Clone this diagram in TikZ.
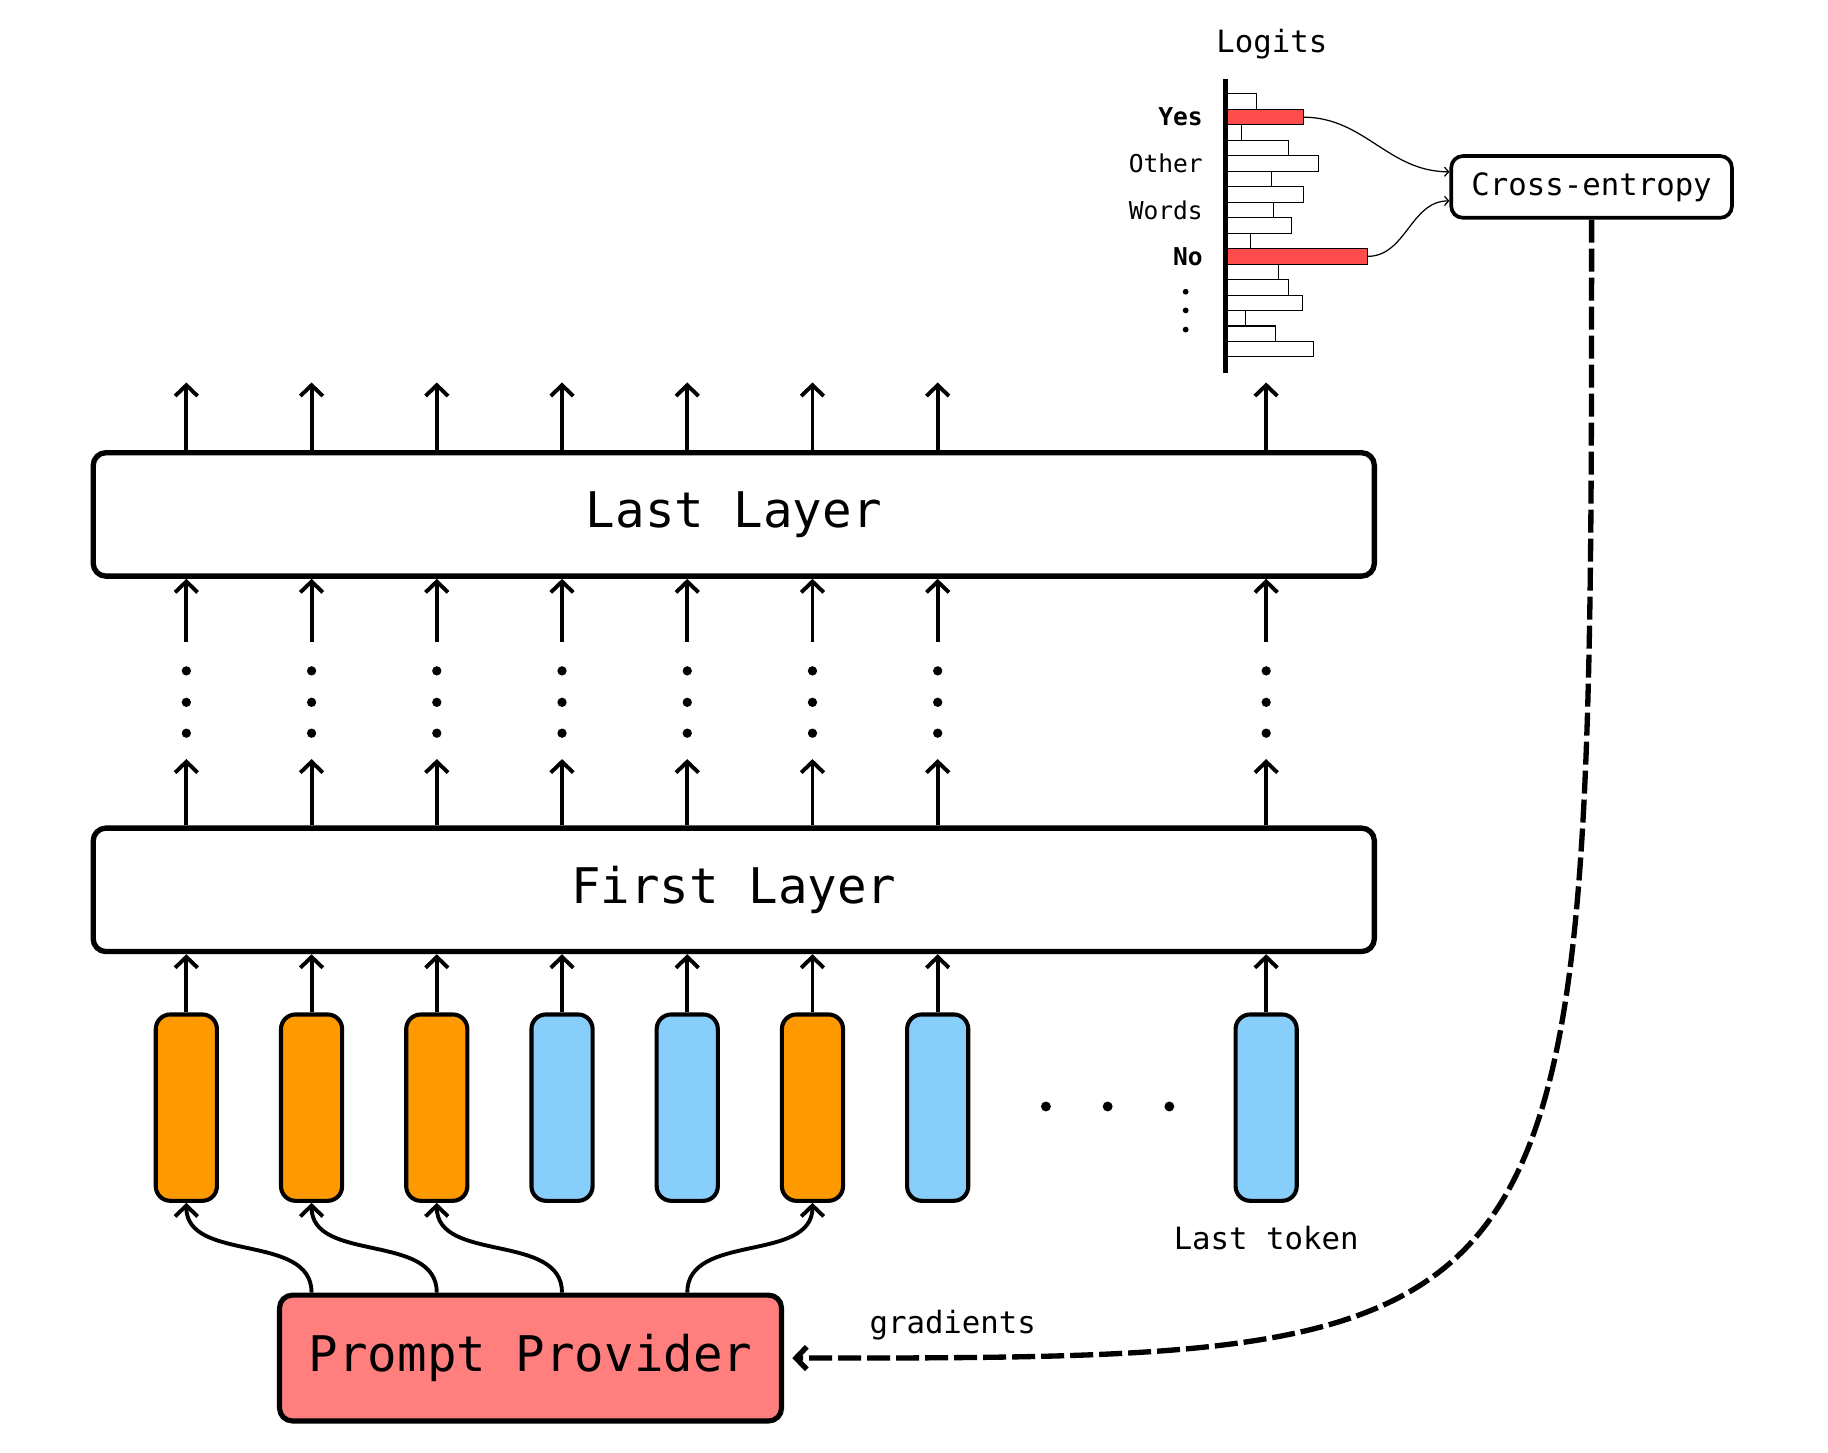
\documentclass[tikz,border=0pt]{standalone}
\usepackage{fontspec}
\setmonofont{DejaVu Sans Mono}
\usetikzlibrary{positioning, calc, arrows.meta}

\definecolor{softorange}{HTML}{FF9900}
\definecolor{tokenblue}{HTML}{87CEFA}
\definecolor{providerred}{HTML}{FF7F7F}
\definecolor{logitred}{HTML}{FF4D4D}

\tikzstyle{layer} = [rectangle, rounded corners=0.22cm, minimum width=22cm, minimum height=2.12cm, text centered, draw=black, line width=2.6pt, font=\ttfamily\fontsize{24}{28}\selectfont]
\tikzstyle{softtok} = [rectangle, rounded corners=0.25cm, minimum width=1.05cm, minimum height=3.2cm, draw=black, line width=2pt, fill=softorange]
\tikzstyle{texttok} = [softtok, fill=tokenblue]
\tikzstyle{provider} = [rectangle, rounded corners=0.22cm, minimum width=8.62cm, minimum height=2.16cm, text centered, draw=black, line width=2.5pt, fill=providerred, font=\ttfamily\fontsize{24}{28}\selectfont]
\tikzstyle{loss} = [rectangle, rounded corners=0.2cm, minimum width=4.82cm, minimum height=1.06cm, text centered, draw=black, line width=1.8pt, font=\ttfamily\fontsize{15}{18}\selectfont]
\tikzstyle{logitbar} = [rectangle, draw=black, line width=0.5pt, minimum height=0.2656cm, inner sep=0pt, outer sep=0pt, anchor=west]
\tikzstyle{barlabel} = [inner sep=0pt, font=\ttfamily\fontsize{12}{14}\selectfont]
\tikzstyle{boldlabel} = [inner sep=0pt, font=\ttfamily\bfseries\fontsize{12}{14}\selectfont]
\tikzstyle{caption} = [inner sep=0pt, font=\ttfamily\fontsize{15}{18}\selectfont]
\tikzstyle{arrow} = [line width=1.9pt, ->, >={Straight Barb[length=5.3pt, width=11pt]}]
\tikzstyle{thinarrow} = [line width=0.6pt, ->, >={Straight Barb[length=2pt, width=4.5pt]}]
\tikzstyle{gradarrow} = [line width=2.6pt, dash pattern=on 0.395cm off 0.103cm, ->, >={Straight Barb[length=5.3pt, width=11pt]}, shorten >=4pt]

\begin{document}
\begin{tikzpicture}[node distance=1cm]
\useasboundingbox (0,0) rectangle (31.39,-24.95);

% Tokens
\node (t1) [softtok] at (3.2,-19.02) {};
\node (t2) [softtok, right=1.03cm of t1] {};
\node (t3) [softtok, right=1.03cm of t2] {};
\node (t4) [texttok, right=1.03cm of t3] {};
\node (t5) [texttok, right=1.03cm of t4] {};
\node (t6) [softtok, right=1.03cm of t5] {};
\node (t7) [texttok, right=1.03cm of t6] {};
\node (t8) [texttok, right=4.52cm of t7] {};

\node (lasttok) [caption, below=0.4cm of t8] {Last token};

\foreach \x in {17.96,19.02,20.08}
  \fill (\x,-19.0) circle (0.085);

% Layers
\node (first) [layer] at (12.6,-15.28) {First Layer};
\node (last) [layer, above=4.235cm of first] {Last Layer};

% Prompt provider and loss
\node (pp) [provider] at (9.11,-23.32) {Prompt Provider};
\node (ce) [loss] at (27.33,-3.21) {Cross-entropy};

% Logits
\coordinate (axtop) at (21.04,-1.36);
\coordinate (axbot) at (21.04,-6.4);
\foreach \len/\col [count=\i] in {0.54/white,1.34/logitred,0.28/white,1.08/white,1.60/white,0.80/white,1.34/white,0.82/white,1.14/white,0.44/white,2.44/logitred,0.92/white,1.08/white,1.32/white,0.34/white,0.86/white,1.52/white}
  \node (bar\i) [logitbar, minimum width=\len cm, fill=\col] at (21.04,{-1.614-0.2656*(\i-0.5)}) {};
\draw [line width=2.5pt] (axtop) -- (axbot);

\node (logits) [caption] at (21.84,-0.76) {Logits};
\node (yes) [boldlabel, left=0.38cm of bar2] {Yes};
\node (other) [barlabel, left=0.38cm of bar5] {Other};
\node (words) [barlabel, left=0.38cm of bar8] {Words};
\node (no) [boldlabel, left=0.38cm of bar11] {No};
\foreach \y in {-5.01,-5.33,-5.66}
  \fill (20.36,\y) circle (0.05);

% Arrows
\foreach \i in {1,...,8} {
  \draw [arrow] (t\i.north) -- (t\i |- first.south);
  \coordinate (up\i) at ($(t\i |- first.north)+(0,1.14)$);
  \draw [arrow] (t\i |- first.north) -- (up\i);
  \foreach \y in {-11.52,-12.06,-12.59}
    \fill (t\i |- 0,\y) circle (0.08);
  \coordinate (lo\i) at ($(t\i |- last.south)+(0,-1.08)$);
  \draw [arrow] (lo\i) -- (t\i |- last.south);
  \coordinate (out\i) at ($(t\i |- last.north)+(0,1.16)$);
  \draw [arrow] (t\i |- last.north) -- (out\i);
}

\draw [arrow] (t2 |- pp.north) to[out=90,in=-90] (t1.south);
\draw [arrow] (t3 |- pp.north) to[out=90,in=-90] (t2.south);
\draw [arrow] (t4 |- pp.north) to[out=90,in=-90] (t3.south);
\draw [arrow] (t5 |- pp.north) to[out=90,in=-90] (t6.south);

\coordinate (ceyes) at ($(ce.west)+(0,0.26)$);
\coordinate (ceno) at ($(ce.west)+(0,-0.24)$);
\draw [thinarrow] (bar2.east) to[out=0,in=180] (ceyes);
\draw [thinarrow] (bar11.east) to[out=0,in=180] (ceno);

\coordinate (bend) at (ce.south |- pp.east);
\draw [gradarrow] (ce.south) .. controls (bend) .. (pp.east);
\node (gradlbl) [caption] at (16.36,-22.76) {gradients};

\end{tikzpicture}
\end{document}
